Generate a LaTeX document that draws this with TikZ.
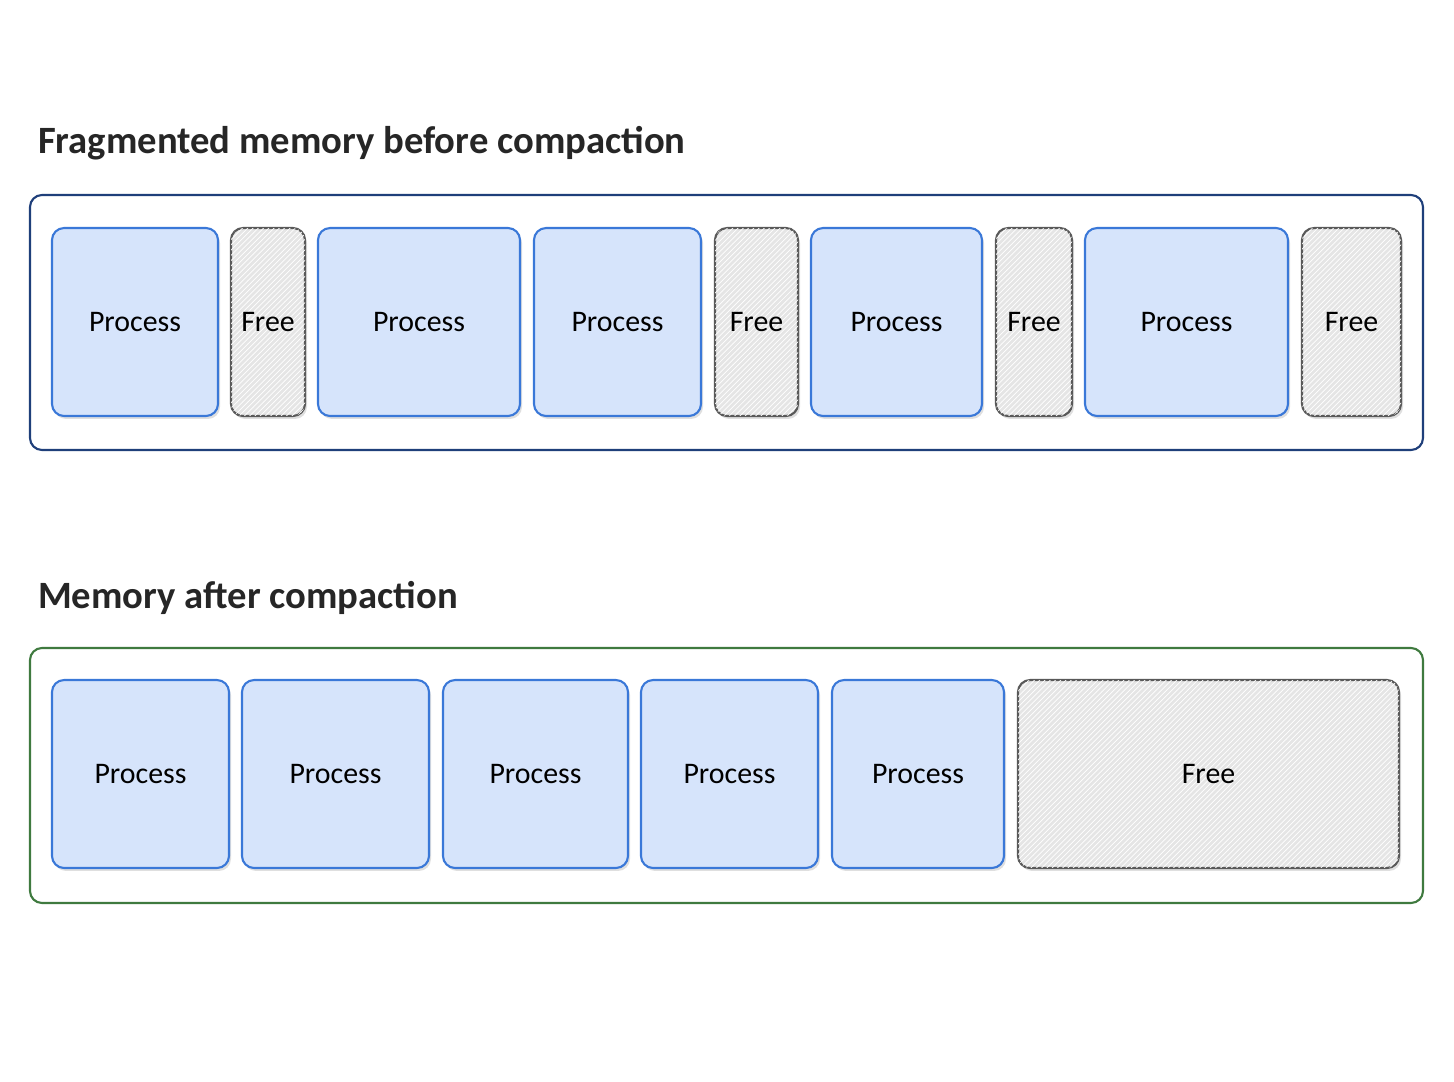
\documentclass[tikz,border=0pt]{standalone}
\usepackage{fontspec}
\setmainfont{Carlito}
\usetikzlibrary{patterns,shadows}
\definecolor{procfill}{HTML}{D6E4FB}
\definecolor{procdraw}{HTML}{3A78D8}
\definecolor{topframe}{HTML}{1F3F7A}
\definecolor{botframe}{HTML}{3F7A3F}
\begin{document}
\begin{tikzpicture}[x=0.02cm,y=-0.02cm,
    frame/.style = {draw, line width=1.2pt, rounded corners=0.24cm},
    title/.style = {anchor=west, font=\bfseries\fontsize{22}{26}\selectfont, text=black!85},
    block/.style = {rounded corners=0.24cm, line width=1.2pt, minimum height=3.76cm,
                    font=\fontsize{17}{20}\selectfont, inner sep=0pt,
                    drop shadow={opacity=0.25, shadow xshift=0.04cm, shadow yshift=-0.06cm}},
    proc/.style  = {block, draw=procdraw, fill=procfill},
    free/.style  = {block, draw=black!65, fill=black!10,
                    postaction={pattern=north east lines, pattern color=white}}]
  \useasboundingbox (0,0) rectangle (1454,1082);

  % fragmented memory
  \node[title] (ttop) at (32,143) {Fragmented memory before compaction};
  \draw[frame, draw=topframe] (30,195) rectangle (1423,450);
  \foreach \a/\b/\k/\t [count=\i] in {52/218/proc/Process, 231/305/free/Free,
      318/520/proc/Process, 534/701/proc/Process, 715/798/free/Free,
      811/982/proc/Process, 996/1072/free/Free, 1085/1288/proc/Process,
      1302/1401/free/Free}
    \node[\k, minimum width={(\b-\a)*0.02cm}] (t\i) at ({(\a+\b)/2},322) {\t};

  % memory after compaction
  \node[title] (tbot) at (32,598) {Memory after compaction};
  \draw[frame, draw=botframe] (30,648) rectangle (1423,903);
  \foreach \a/\b/\k/\t [count=\i] in {52/229/proc/Process, 242/429/proc/Process,
      443/628/proc/Process, 641/818/proc/Process, 832/1004/proc/Process,
      1018/1399/free/Free}
    \node[\k, minimum width={(\b-\a)*0.02cm}] (b\i) at ({(\a+\b)/2},774) {\t};
\end{tikzpicture}
\end{document}
